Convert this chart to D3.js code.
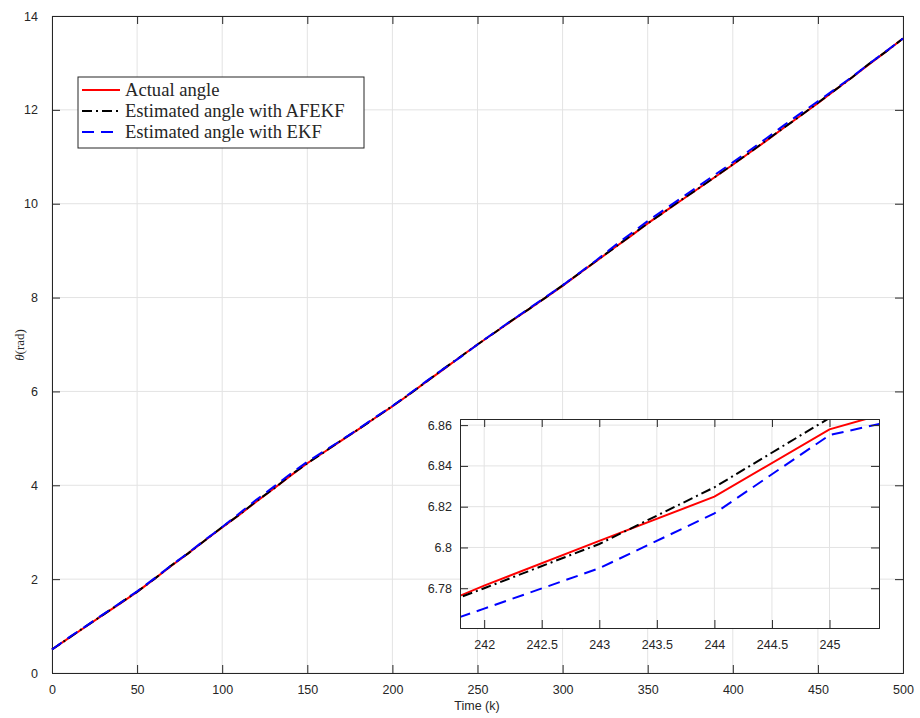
<!DOCTYPE html>
<html>
<head>
<meta charset="utf-8">
<script src="https://cdn.jsdelivr.net/npm/d3@7"></script>
<style>
  body { margin: 0; background: #fff; }
  svg text { font-family: "Liberation Sans", Arial, sans-serif; fill: #262626; }
</style>
</head>
<body>
<svg width="920" height="718"></svg>
<script>
'use strict'

// main curve, sampled every 10 steps
const kMain = d3.range(0, 501, 10)
const actual = [0.50, 0.75, 0.99, 1.24, 1.48, 1.73, 2.00, 2.28, 2.55, 2.83,
  3.10, 3.37, 3.65, 3.92, 4.20, 4.47, 4.71, 4.95, 5.19, 5.44,
  5.68, 5.94, 6.21, 6.47, 6.74, 7.00, 7.25, 7.50, 7.75, 8.00,
  8.25, 8.52, 8.78, 9.05, 9.31, 9.58, 9.83, 10.08, 10.33, 10.58,
  10.83, 11.09, 11.35, 11.62, 11.88, 12.14, 12.42, 12.69, 12.97, 13.24, 13.52]
const afekf = [0.50, 0.75, 1.00, 1.24, 1.49, 1.73, 2.00, 2.29, 2.55, 2.83,
  3.11, 3.37, 3.66, 3.92, 4.21, 4.47, 4.71, 4.96, 5.19, 5.44,
  5.69, 5.94, 6.21, 6.48, 6.74, 7.00, 7.25, 7.51, 7.75, 8.00,
  8.26, 8.52, 8.79, 9.05, 9.32, 9.58, 9.83, 10.09, 10.33, 10.58,
  10.84, 11.09, 11.36, 11.62, 11.88, 12.15, 12.42, 12.69, 12.98, 13.24, 13.52]
const ekf = [0.50, 0.76, 1.00, 1.25, 1.49, 1.74, 2.01, 2.29, 2.56, 2.84,
  3.11, 3.40, 3.69, 3.96, 4.24, 4.50, 4.73, 4.96, 5.20, 5.45,
  5.69, 5.95, 6.22, 6.48, 6.73, 7.00, 7.26, 7.51, 7.76, 8.01,
  8.26, 8.53, 8.80, 9.09, 9.36, 9.63, 9.88, 10.13, 10.38, 10.63,
  10.88, 11.14, 11.40, 11.67, 11.93, 12.18, 12.44, 12.70, 12.98, 13.25, 13.52]

// zoomed window around k = 243
const kZoom = [241, 242, 243, 244, 245, 246]
const actualZoom = [6.7575, 6.7813, 6.8032, 6.8249, 6.8579, 6.874]
const afekfZoom = [6.759, 6.780, 6.8017, 6.8295, 6.8635, 6.880]
const ekfZoom = [6.7503, 6.7700, 6.7898, 6.8167, 6.8551, 6.8677]

const xTicks = d3.range(0, 501, 50)
const yTicks = d3.range(0, 15, 2)
const xTicksZoom = [242, 242.5, 243, 243.5, 244, 244.5, 245]
const yTicksZoom = [6.78, 6.8, 6.82, 6.84, 6.86]

const seriesNames = ['Actual angle', 'Estimated angle with AFEKF', 'Estimated angle with EKF']

const styles = [
  { color: '#ff0000', dash: null },
  { color: '#000000', dash: '10,4,2,4' },
  { color: '#0000ff', dash: '12,7' }
]

const svg = d3.select('svg')
const axisColor = '#262626'
const gridColor = '#e3e3e3'

function drawBox(g, x, y, xt, yt, fmtX, fmtY, padY) {
  const [x0, x1] = x.range()
  const [y0, y1] = y.range()
  const tl = 8
  // grid
  g.append('g').selectAll('line').data(xt).join('line')
    .attr('x1', d => x(d)).attr('x2', d => x(d))
    .attr('y1', y1).attr('y2', y0)
    .attr('stroke', gridColor)
  g.append('g').selectAll('line').data(yt).join('line')
    .attr('x1', x0).attr('x2', x1)
    .attr('y1', d => y(d)).attr('y2', d => y(d))
    .attr('stroke', gridColor)

  const ax = g.append('g').attr('class', 'axes')
  // ticks point inward on all four sides
  ax.append('g').attr('transform', `translate(0,${y0})`)
    .call(d3.axisBottom(x).tickValues(xt).tickSize(-tl).tickPadding(12).tickFormat(fmtX))
  ax.append('g').attr('transform', `translate(0,${y1})`)
    .call(d3.axisTop(x).tickValues(xt).tickSize(-tl).tickFormat(''))
  ax.append('g').attr('transform', `translate(${x0},0)`)
    .call(d3.axisLeft(y).tickValues(yt).tickSize(-tl).tickPadding(padY).tickFormat(fmtY))
  ax.append('g').attr('transform', `translate(${x1},0)`)
    .call(d3.axisRight(y).tickValues(yt).tickSize(-tl).tickFormat(''))
  ax.selectAll('.domain').attr('stroke', axisColor)
  ax.selectAll('.tick line').attr('stroke', axisColor)
  ax.selectAll('text')
    .style('font-family', '"Liberation Sans", Arial, sans-serif')
    .style('font-size', '12.5px')
    .attr('fill', axisColor)
}

function drawSeries(g, x, y, ks, list, clipId) {
  const line = d3.line().x((d, i) => x(ks[i])).y(d => y(d))
  list.forEach((vals, i) => {
    g.append('path')
      .datum(vals)
      .attr('d', line)
      .attr('fill', 'none')
      .attr('stroke', styles[i].color)
      .attr('stroke-width', 2)
      .attr('stroke-dasharray', styles[i].dash)
      .attr('clip-path', clipId ? `url(#${clipId})` : null)
  })
}

// ---- main axes
const x = d3.scaleLinear().domain([0, 500]).range([52, 903])
const y = d3.scaleLinear().domain([0, 14]).range([673, 16])

const main = svg.append('g')
drawBox(main, x, y, xTicks, yTicks, d3.format('d'), d3.format('d'), 14)
drawSeries(main, x, y, kMain, [actual, afekf, ekf], null)

main.append('text')
  .attr('x', 477).attr('y', 710)
  .attr('text-anchor', 'middle')
  .style('font-size', '12.5px')
  .text('Time (k)')

const yl = main.append('text')
  .attr('transform', 'translate(24,345) rotate(-90)')
  .attr('text-anchor', 'middle')
  .style('font-family', '"Liberation Serif", "DejaVu Serif", serif')
  .style('font-size', '13px')
yl.append('tspan').style('font-style', 'italic').text('θ')
yl.append('tspan').text('(rad)')

// ---- legend
const legend = svg.append('g')
legend.append('rect')
  .attr('x', 78).attr('y', 77).attr('width', 286).attr('height', 71)
  .attr('fill', '#fff').attr('stroke', axisColor)
seriesNames.forEach((name, i) => {
  const ly = 90 + i * 21
  legend.append('line')
    .attr('x1', 82).attr('x2', 120).attr('y1', ly).attr('y2', ly)
    .attr('stroke', styles[i].color)
    .attr('stroke-width', 2)
    .attr('stroke-dasharray', styles[i].dash)
  legend.append('text')
    .attr('x', 125).attr('y', ly + 6)
    .style('font-family', '"Liberation Serif", "DejaVu Serif", serif')
    .style('font-size', '18.6px')
    .attr('fill', '#000')
    .text(name)
})

// ---- inset
const xz = d3.scaleLinear().domain([241.79, 245.43]).range([460, 879])
const yz = d3.scaleLinear().domain([6.7605, 6.863]).range([628, 419])

const inset = svg.append('g')
inset.append('rect')
  .attr('x', 460).attr('y', 419).attr('width', 419).attr('height', 209)
  .attr('fill', '#fff')
svg.append('clipPath').attr('id', 'zclip')
  .append('rect').attr('x', 460).attr('y', 419).attr('width', 419).attr('height', 209)

drawBox(inset, xz, yz, xTicksZoom, yTicksZoom, d3.format('~g'), d3.format('~g'), 8)
drawSeries(inset, xz, yz, kZoom, [actualZoom, afekfZoom, ekfZoom], 'zclip')
inset.select('.axes').raise()
</script>
</body>
</html>
